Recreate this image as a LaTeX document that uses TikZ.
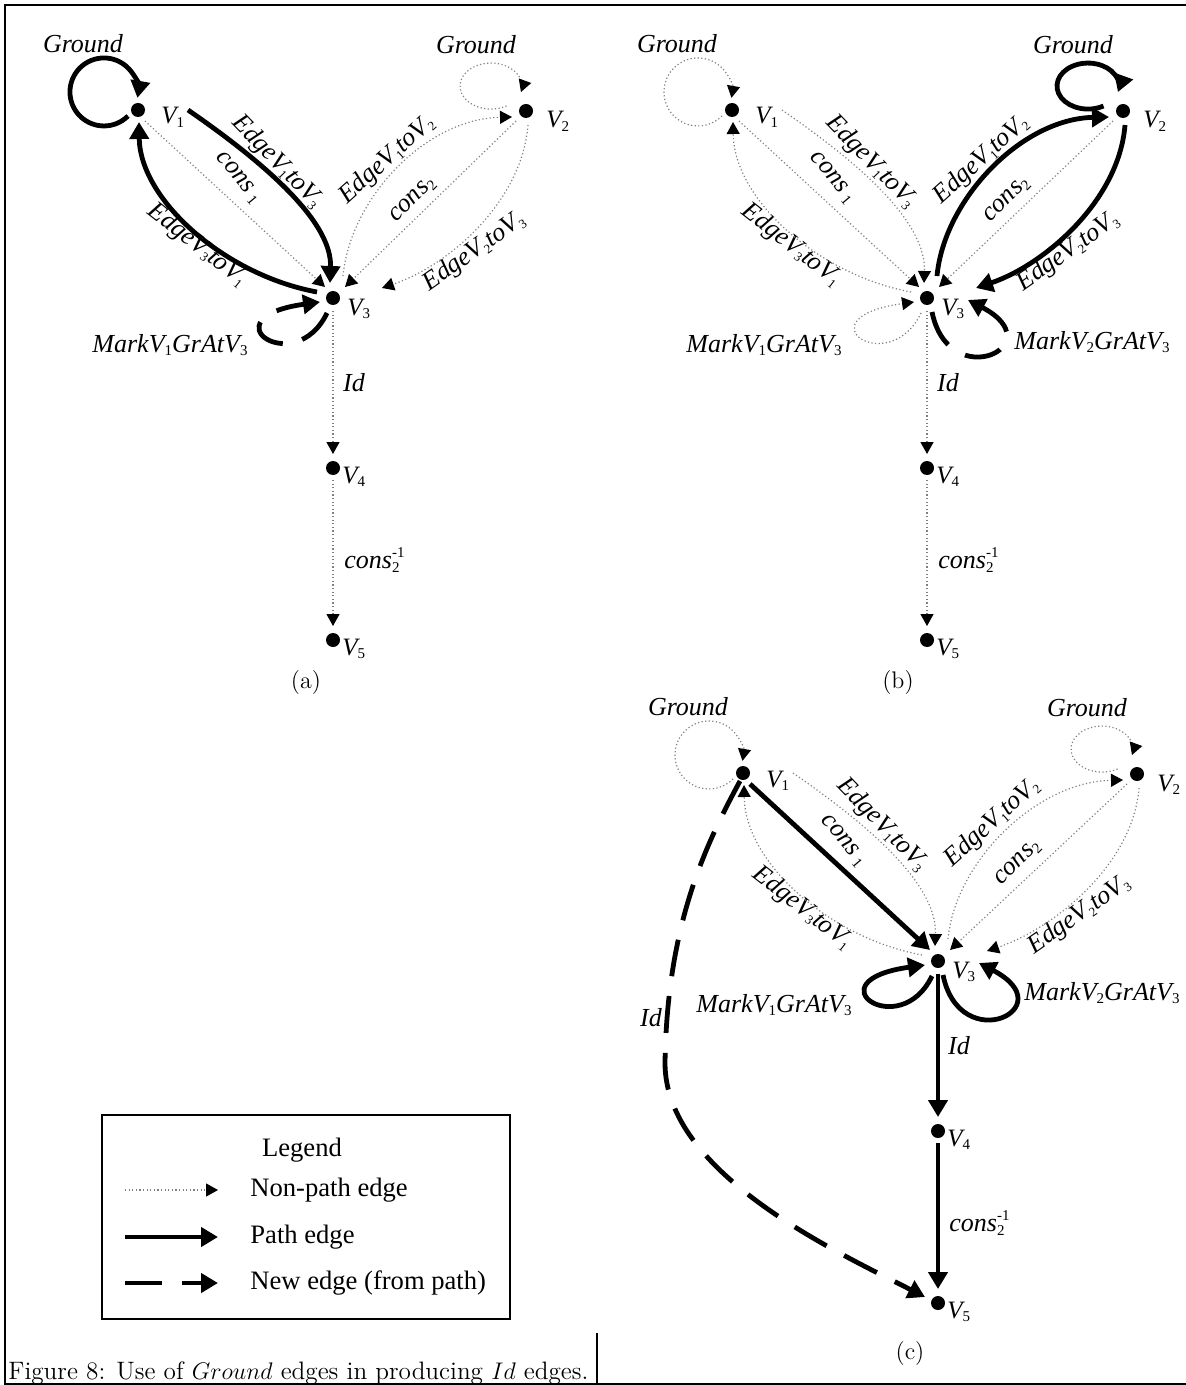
\documentclass[tikz,border=0pt]{standalone}
\usepackage{fontspec}
\newfontfamily\tms{Liberation Serif}
\usetikzlibrary{arrows.meta,calc}

\newcommand\lsub[1]{\raisebox{-1.9pt}{\fontsize{7.5}{7.5}\selectfont\upshape #1}}
\newcommand\ssub[1]{\raisebox{-1.7pt}{\fontsize{6.5}{6.5}\selectfont\upshape #1}}
\newcommand\lsubsup[2]{\rlap{\raisebox{5.6pt}{\fontsize{7.5}{7.5}\selectfont\upshape #2}}\raisebox{-1.9pt}{\fontsize{7.5}{7.5}\selectfont\upshape #1}}

\tikzset{
 vdot/.style={circle,fill=black,inner sep=0pt,minimum size=7pt},
 vlab/.style={font=\tms\itshape\fontsize{12.5}{13}\selectfont, inner sep=0pt, anchor=base west},
 elab/.style={font=\tms\itshape\fontsize{13}{14}\selectfont, inner sep=0pt},
 lgtext/.style={font=\tms\fontsize{13.3}{15}\selectfont, inner sep=0pt},
 pth/.style={line width=2.4pt, -{Triangle[length=8.5pt,width=9.5pt]}},
 nw/.style={pth, dash pattern=on 18.5pt off 10pt},
 np/.style={line width=0.6pt, black!50, dash pattern=on 0.6pt off 1.2pt, -{Triangle[length=6pt,width=6.5pt,color=black]}},
 A-g1/.style=pth, A-g2/.style=np, A-e13/.style=pth, A-c1/.style=np, A-e31/.style=pth,
 A-e12/.style=np, A-c2/.style=np, A-e23/.style=np, A-id/.style=np, A-ci/.style=np,
 B-g1/.style=np, B-g2/.style=pth, B-e13/.style=np, B-c1/.style=np, B-e31/.style=np,
 B-e12/.style=pth, B-c2/.style=np, B-e23/.style=pth, B-id/.style=np, B-ci/.style=np,
 C-g1/.style=np, C-g2/.style=np, C-e13/.style=np, C-c1/.style=pth, C-e31/.style=np,
 C-e12/.style=np, C-c2/.style=np, C-e23/.style=np, C-id/.style=pth, C-ci/.style=pth,
}

\newcommand\drawpanel[4]{%
 \node[vdot] (#11) at (#2+138,#3+110) {};
 \node[vdot] (#12) at (#2+#4,#3+111) {};
 \node[vdot] (#13) at (#2+333,#3+298) {};
 \node[vdot] (#14) at (#2+333,#3+468) {};
 \node[vdot] (#15) at (#2+333,#3+640) {};
 \node[vlab] (#1v1) at ($(#11)+(23,14)$) {V\lsub{1}};
 \node[vlab] (#1v2) at ($(#12)+(20,17)$) {V\lsub{2}};
 \node[vlab] (#1v3) at ($(#13)+(14,17)$) {V\lsub{3}};
 \node[vlab] (#1v4) at ($(#14)+(9,15)$) {V\lsub{4}};
 \node[vlab] (#1v5) at ($(#15)+(9,15)$) {V\lsub{5}};
 \node[elab] (#1G1) at ($(#11)+(-55,-66)$) {Ground};
 \node[elab] (#1G2) at ($(#12)+(-50,-66)$) {Ground};
 \node[elab,rotate=-46] (#1L13) at ($(#11)+(139,52)$) {EdgeV\ssub{1}toV\ssub{3}};
 \node[elab,rotate=-50] (#1Lc1) at ($(#11)+(100,68)$) {cons\,\lsub{1}};
 \node[elab,rotate=-38] (#1L31) at ($(#11)+(59,135)$) {EdgeV\ssub{3}toV\ssub{1}};
 \node[elab,rotate=42] (#1L12) at ($(#13)+(54,-138)$) {EdgeV\ssub{1}toV\ssub{2}};
 \node[elab,rotate=45] (#1Lc2) at ($(#13)+(80,-98)$) {cons\lsub{2}};
 \node[elab,rotate=35] (#1L23) at ($(#13)+(141,-46)$) {EdgeV\ssub{2}toV\ssub{3}};
 \node[elab] (#1Lid) at ($(#13)+(21,85)$) {Id};
 \node[elab] (#1Lci) at ($(#14)+(39,92)$) {cons\lsubsup{2}{-1}};
 \draw[#1-g1] ($(#11)+(-10,6)$) arc[start angle=45,end angle=370,radius=34];
 \draw[#1-g2] ($(#12)+(-19.5,-5)$) arc[start angle=60,end angle=375,x radius=31,y radius=23];
 \draw[#1-e13] ($(#11)+(50,0)$) .. controls +(87,60) and +(2,-58) .. ($(#13)+(-3,-15)$);
 \draw[#1-c1] ($(#11)+(7,11)$) -- ($(#13)+(-8,-11)$);
 \draw[#1-e31] ($(#13)+(-16,-6)$) .. controls +(-92,-17) and +(1,78) .. ($(#11)+(1,12)$);
 \draw[#1-e12] ($(#13)+(10,-22)$) .. controls +(7,-76) and +(-88,2) .. ($(#12)+(-14,6)$);
 \draw[#1-c2] ($(#12)+(-10,10)$) -- ($(#13)+(12,-11)$);
 \draw[#1-e23] ($(#12)+(2,14)$) .. controls +(-6,76) and +(68,-23) .. ($(#13)+(49,-10)$);
 \draw[#1-id] ($(#13)+(0,13)$) -- ($(#14)+(0,-14)$);
 \draw[#1-ci] ($(#14)+(0,12)$) -- ($(#15)+(0,-14)$);
}

\begin{document}
\begin{tikzpicture}[x=0.5pt,y=-0.5pt]
\useasboundingbox (0,0) rectangle (1186,1385);
% frame
\draw[line width=1pt] (1186,5) -- (5,5) -- (5,1384) -- (1186,1384);
\draw[line width=1pt] (597,1333) -- (597,1384);

\drawpanel{A}{0}{0}{526}
\drawpanel{B}{594}{0}{529}
\drawpanel{C}{605}{663}{532}

% Mark loops
\draw[nw] ($(A3)+(-6,15)$) .. controls +(-32,67) and +(-115,16) .. ($(A3)+(-13,4)$);
\node[elab] (AM1) at ($(A3)+(-163,47)$) {MarkV\lsub{1}GrAtV\lsub{3}};

\draw[np] ($(B3)+(-6,15)$) .. controls +(-32,67) and +(-115,16) .. ($(B3)+(-13,4)$);
\draw[nw] ($(B3)+(5,14)$) .. controls +(17,83) and +(86,45) .. ($(B3)+(41,2)$);
\node[elab] (BM1) at ($(B3)+(-163,47)$) {MarkV\lsub{1}GrAtV\lsub{3}};
\node[elab] (BM2) at ($(B3)+(165,44)$) {MarkV\lsub{2}GrAtV\lsub{3}};

\draw[pth] ($(C3)+(-6,15)$) .. controls +(-32,67) and +(-115,16) .. ($(C3)+(-13,4)$);
\draw[pth] ($(C3)+(5,14)$) .. controls +(17,83) and +(86,45) .. ($(C3)+(41,2)$);
\node[elab] (CM1) at ($(C3)+(-164,44)$) {MarkV\lsub{1}GrAtV\lsub{3}};
\node[elab] (CM2) at ($(C3)+(164,32)$) {MarkV\lsub{2}GrAtV\lsub{3}};

% new Id edge in (c)
\draw[nw] ($(C1)+(-3,8)$) .. controls +(-35,65) and +(2,-138) .. ($(C1)+(-78,290)$)
  .. controls +(0,110) and +(-90,-46) .. ($(C5)+(-13,-6)$);
\node[elab] (CId) at ($(C1)+(-92,245)$) {Id};

% sub-figure labels
\node[font=\fontsize{12}{14}\selectfont, inner sep=0pt] (capa) at ($(A5)+(-27,43)$) {(a)};
\node[font=\fontsize{12}{14}\selectfont, inner sep=0pt] (capb) at ($(B5)+(-29,43)$) {(b)};
\node[font=\fontsize{12}{14}\selectfont, inner sep=0pt] (capc) at ($(C5)+(-28,50)$) {(c)};

% legend
\node[draw, line width=0.8pt, minimum width=204pt, minimum height=102pt, inner sep=0pt] (lgd) at (306,1217) {};
\node[lgtext] (lgt) at (302,1150) {Legend};
\coordinate (l1a) at (125,1190); \coordinate (l1b) at (218,1190);
\coordinate (l2a) at (125,1237); \coordinate (l2b) at (218,1237);
\coordinate (l3a) at (125,1283); \coordinate (l3b) at (218,1283);
\draw[np] (l1a) -- (l1b);
\draw[pth] (l2a) -- (l2b);
\draw[nw] (l3a) -- (l3b);
\node[lgtext, anchor=west] (l1t) at (250,1190) {Non-path edge};
\node[lgtext, anchor=west] (l2t) at (250,1237) {Path edge};
\node[lgtext, anchor=west] (l3t) at (250,1283) {New edge (from path)};

% caption
\node[anchor=base west, inner sep=0pt, font=\fontsize{12.6}{14}\selectfont] (cap) at (8,1379) {Figure 8: Use of $Ground$ edges in producing $Id$ edges.};
\end{tikzpicture}
\end{document}
